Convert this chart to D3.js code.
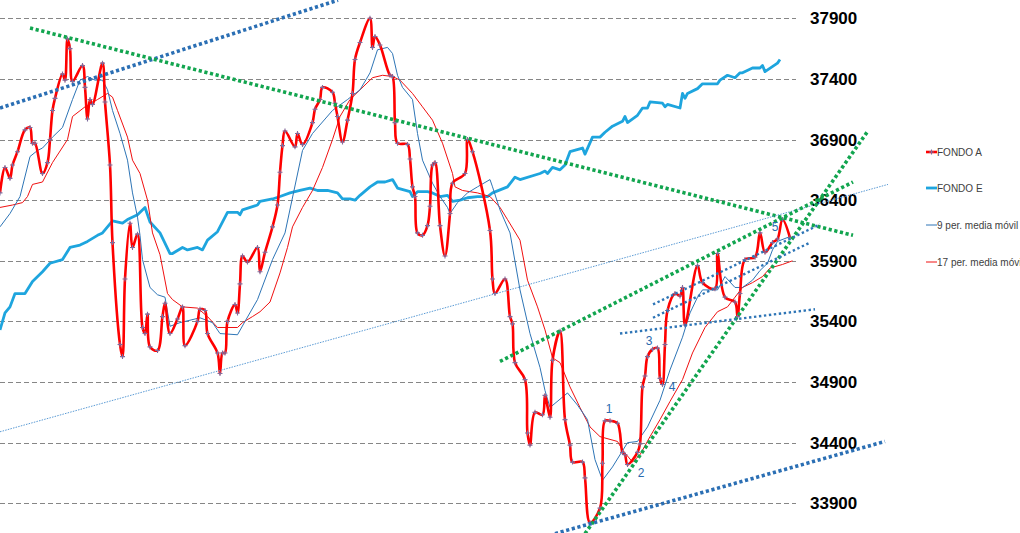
<!DOCTYPE html>
<html><head><meta charset="utf-8">
<script src="https://cdn.jsdelivr.net/npm/d3@7"></script>
<style>html,body{margin:0;padding:0;background:#fff;overflow:hidden}</style>
</head><body><svg id="c" width="1020" height="533"></svg>
<script>
const yTicks = [33900,34400,34900,35400,35900,36400,36900,37400,37900];
const seriesNames = ["FONDO A","FONDO E","9 per. media móvil","17 per. media móvil"];

const dayA = [0,2,4,5,7,10,12,13,14,17,
19,20,21,22,25,26,27,28,29,33,
34,35,36,37,41,42,44,45,48,49,
50,52,53,55,57,58,59,60,63,65,
66,68,71,73,74,79,80,82,83,87,
88,89,90,91,94,95,96,97,99,103,
104,106,109,111,112,113,114,118,119,121,
125,126,128,129,133,134,135,137,139,141,
142,144,148,149,150,152,156,157,158,159,
163,164,165,166,167,169,171,172,173,174,
176,178,180,181,186,187,189,196,197,198,
202,204,205,206,210,211,212,214,217,218,
220,221,224,226,228,229,233,234,236,240,
241,242,244,247,249,250,251,255,256,257,
258,259,261,263,264,265,266,267,270,272,
273,274,279,281,286,287,290,294,295,296,
298,302,304,306,309,311,313,316];
const fondoA = [36460,36670,36580,36690,36800,36980,37000,36870,36870,36620,
36710,36900,37140,37240,37440,37390,37730,37650,37380,37510,
37330,37070,37230,37190,37530,37210,36690,36050,35210,35110,
35750,36210,36010,36120,35350,35300,35460,35190,35160,35440,
35550,35300,35420,35520,35200,35400,35500,35490,35300,35140,
34970,35140,35140,35400,35540,35470,35710,35940,35890,36010,
35810,35970,36180,36360,36630,36850,36970,36840,36950,36860,
37040,37150,37230,37330,37290,37200,37090,36880,37060,37280,
37560,37700,37900,37660,37750,37680,37430,37420,37040,36870,
36860,36740,36510,36430,36130,36110,36190,36350,36690,36710,
36190,35940,36290,36540,36620,36900,36800,36150,35750,35630,
35750,35440,35380,35060,34920,34480,34380,34650,34630,34790,
34610,35080,35320,34590,34380,34240,34240,34110,33740,33860,
34230,34580,34580,34560,34320,34300,34220,34320,34390,34860,
34950,35110,35170,35180,34930,34880,35210,35490,35630,35610,
35680,35370,35860,35720,35670,35960,35600,35560,35440,35630,
35910,35930,36130,35970,36050,36080,36240,36090];

const dayE = [0,2,4,6,10,13,17,20,25,28,
32,35,39,41,45,49,51,55,58,60,
64,68,69,73,75,79,81,83,87,91,
95,96,97,103,104,109,112,116,120,124,
127,131,135,137,140,142,144,148,151,154,
157,159,164,165,167,171,173,176,179,181,
184,187,191,195,197,203,206,208,216,218,
219,221,224,226,228,233,234,237,240,242,
245,249,250,251,255,257,259,260,265,266,
267,272,273,274,275,279,281,287,288,291,
294,296,297,301,304,305,306,311,312];
const fondoE = [35330,35470,35520,35630,35630,35730,35810,35880,35910,36010,
36030,36060,36110,36130,36230,36210,36240,36280,36340,36220,
36130,35960,35960,36010,35990,36010,35990,36070,36140,36300,
36300,36280,36320,36360,36390,36410,36430,36460,36480,36500,
36480,36480,36460,36410,36410,36400,36440,36510,36550,36550,
36570,36500,36470,36430,36470,36470,36460,36430,36440,36390,
36400,36420,36430,36430,36460,36510,36590,36570,36620,36640,
36620,36670,36650,36690,36800,36830,36780,36920,36920,36960,
37010,37050,37090,37040,37100,37160,37160,37210,37200,37170,
37190,37160,37280,37240,37280,37320,37360,37360,37390,37430,
37410,37450,37450,37490,37490,37510,37460,37530,37560];

const dayM9 = [0,4,8,12,15,17,21,25,29,32,
35,38,41,43,45,48,51,53,55,56,
57,60,63,66,68,72,80,85,88,95,
98,103,109,114,121,125,133,139,144,148,
151,155,157,159,161,165,167,169,173,176,
179,180,183,187,191,196,197,200,204,208,
212,216,218,220,227,231,235,238,241,245,
251,255,259,264,268,273,276,279,281,287,
290,294,297,301,304,307,309,311,316];
const ma9 = [36180,36290,36430,36760,36810,36830,36920,37000,37230,37390,
37420,37390,37390,37310,37140,36950,36730,36460,36260,36110,
35910,35680,35620,35600,35360,35390,35430,35390,35300,35290,
35400,35580,35910,36130,36810,36950,37140,37230,37310,37450,
37640,37660,37610,37430,37330,37230,36950,36730,36540,36430,
36340,36290,36380,36460,36510,36570,36510,36320,36130,35660,
35300,35020,34830,34690,34810,34710,34590,34260,34090,34200,
34400,34410,34530,34750,35000,35270,35470,35600,35660,35660,
35770,35680,35680,35740,35820,35880,35990,36060,36100];

const dayM17 = [0,5,9,11,13,17,21,27,29,34,
39,43,45,47,51,53,56,59,61,64,
67,69,73,79,83,87,95,97,101,104,
108,112,115,117,121,125,129,133,136,140,
144,149,153,157,160,165,169,173,177,181,
182,185,191,196,200,203,208,211,215,218,
221,224,228,232,236,240,247,249,253,256,
260,264,268,273,277,282,287,291,294,297,
301,305,308,313,317];
const ma17 = [36340,36360,36380,36430,36530,36550,36710,36900,37090,37170,
37230,37280,37250,37140,36920,36730,36620,36400,36130,35950,
35630,35580,35520,35510,35440,35350,35350,35390,35440,35480,
35560,35800,36010,36180,36340,36480,36670,36900,37090,37230,
37310,37410,37430,37420,37390,37280,37170,37060,36870,36620,
36510,36480,36460,36430,36340,36240,36070,35740,35520,35330,
35100,35060,34860,34690,34530,34450,34410,34340,34240,34300,
34450,34590,34740,34920,35140,35350,35480,35520,35600,35680,
35720,35770,35840,35870,35900];

// hand-drawn trend lines (start/end in day, value)
const trendKind = ["blueThick","green","blueThin","green","green","blueThick","blueMed","blueMed","blueMed"];
const trendDay1 = [0,12,0,200,234,222,248,261.2,261.2];
const trendVal1 = [37160,37820,34490,35070,33650,33650,35300,35540,35430];
const trendDay2 = [135.2,341.2,355.2,341.2,346.8,354,326,328,324];
const trendVal2 = [38050,36110,36530,36550,36960,34410,35500,36200,36050];

const noteText = ["1","2","3","4","5"];
const noteDay = [243.6,256.4,259.6,268.8,310];
const noteVal = [34680,34150,35240,34860,36180];

const svg = d3.select("#c");
svg.append("rect").attr("width",1020).attr("height",533).attr("fill","#fff");

const x = d3.scaleLinear().domain([0,317]).range([0,792.5]);
const y = d3.scaleLinear().domain([33900,37900]).range([503.3,18.3]);

// gridlines
svg.append("g").selectAll("line").data(yTicks).join("line")
  .attr("x1",0).attr("x2",796)
  .attr("y1",d=>Math.round(y(d))+0.5).attr("y2",d=>Math.round(y(d))+0.5)
  .attr("stroke","#868686").attr("stroke-width",1).attr("stroke-dasharray","5,3");

// right axis labels
const ax = svg.append("g").attr("transform","translate(810,0)")
  .call(d3.axisRight(y).tickValues(yTicks).tickSize(0).tickPadding(0).tickFormat(d3.format("d")));
ax.select(".domain").remove();
ax.selectAll("text").attr("font-family","'Liberation Sans', Arial, sans-serif")
  .attr("font-size","17px").attr("font-weight","bold").attr("fill","#000");

const pts = (days, vals) => days.map((d,i)=>[x(d), y(vals[i])]);
const lineLin = d3.line();
const lineSmooth = d3.line().curve(d3.curveCatmullRom.alpha(0.5));

// FONDO E
svg.append("path").attr("d", lineLin(pts(dayE,fondoE)))
  .attr("fill","none").attr("stroke","#1EA5DE").attr("stroke-width",2.8).attr("stroke-linejoin","round");
// 17 MA
svg.append("path").attr("d", lineLin(pts(dayM17,ma17)))
  .attr("fill","none").attr("stroke","#F01010").attr("stroke-width",1);
// 9 MA
svg.append("path").attr("d", lineLin(pts(dayM9,ma9)))
  .attr("fill","none").attr("stroke","#2E75B6").attr("stroke-width",1);
// FONDO A
const pA = pts(dayA,fondoA);
svg.append("path").attr("d", lineSmooth(pA))
  .attr("fill","none").attr("stroke","#FF0000").attr("stroke-width",2.6).attr("stroke-linejoin","round");
svg.append("g").selectAll("path").data(pA).join("path")
  .attr("transform",d=>`translate(${d[0]},${d[1]})`)
  .attr("d","M-2.5,0H2.5M0,-2.5V2.5")
  .attr("stroke","#7E6C9E").attr("stroke-width",1.1);

// trend lines
const tStyle = {
  green:{c:"#12A54F",w:3.6,da:"3.2,2.6"},
  blueThick:{c:"#2B6FB4",w:3.6,da:"3.2,2.6"},
  blueMed:{c:"#2E75B6",w:2.4,da:"2.4,2.6"},
  blueThin:{c:"#5B9BD5",w:1,da:"1.5,1.2"}
};
svg.append("g").selectAll("line").data(trendKind).join("line")
  .attr("x1",(k,i)=>x(trendDay1[i])).attr("y1",(k,i)=>y(trendVal1[i]))
  .attr("x2",(k,i)=>x(trendDay2[i])).attr("y2",(k,i)=>y(trendVal2[i]))
  .attr("stroke",k=>tStyle[k].c).attr("stroke-width",k=>tStyle[k].w)
  .attr("stroke-dasharray",k=>tStyle[k].da);

// annotations
svg.append("g").selectAll("text").data(noteText).join("text")
  .attr("x",(t,i)=>x(noteDay[i])).attr("y",(t,i)=>y(noteVal[i]))
  .attr("dy","0.35em").attr("text-anchor","middle")
  .attr("font-family","'Liberation Sans', Arial, sans-serif").attr("font-size","12px")
  .attr("fill","#2A6AAE").text(t=>t);

// legend
const legY = [152,188,225,262];
const legStyle = [{c:"#FF0000",w:2.6},{c:"#1EA5DE",w:2.8},{c:"#2E75B6",w:1},{c:"#F01010",w:1}];
const leg = svg.append("g");
seriesNames.forEach((n,i)=>{
  leg.append("line").attr("x1",926).attr("x2",937).attr("y1",legY[i]).attr("y2",legY[i])
    .attr("stroke",legStyle[i].c).attr("stroke-width",legStyle[i].w);
  if(i===0){
    leg.append("path").attr("transform",`translate(931.5,${legY[i]})`).attr("d","M-2.5,0H2.5M0,-2.5V2.5")
      .attr("stroke","#7E6C9E").attr("stroke-width",1.1);
  }
  leg.append("text").attr("x",937).attr("y",legY[i]).attr("dy","0.35em")
    .attr("font-family","'Liberation Sans', Arial, sans-serif").attr("font-size","10px")
    .attr("fill","#404040").text(n);
});
</script></body></html>
